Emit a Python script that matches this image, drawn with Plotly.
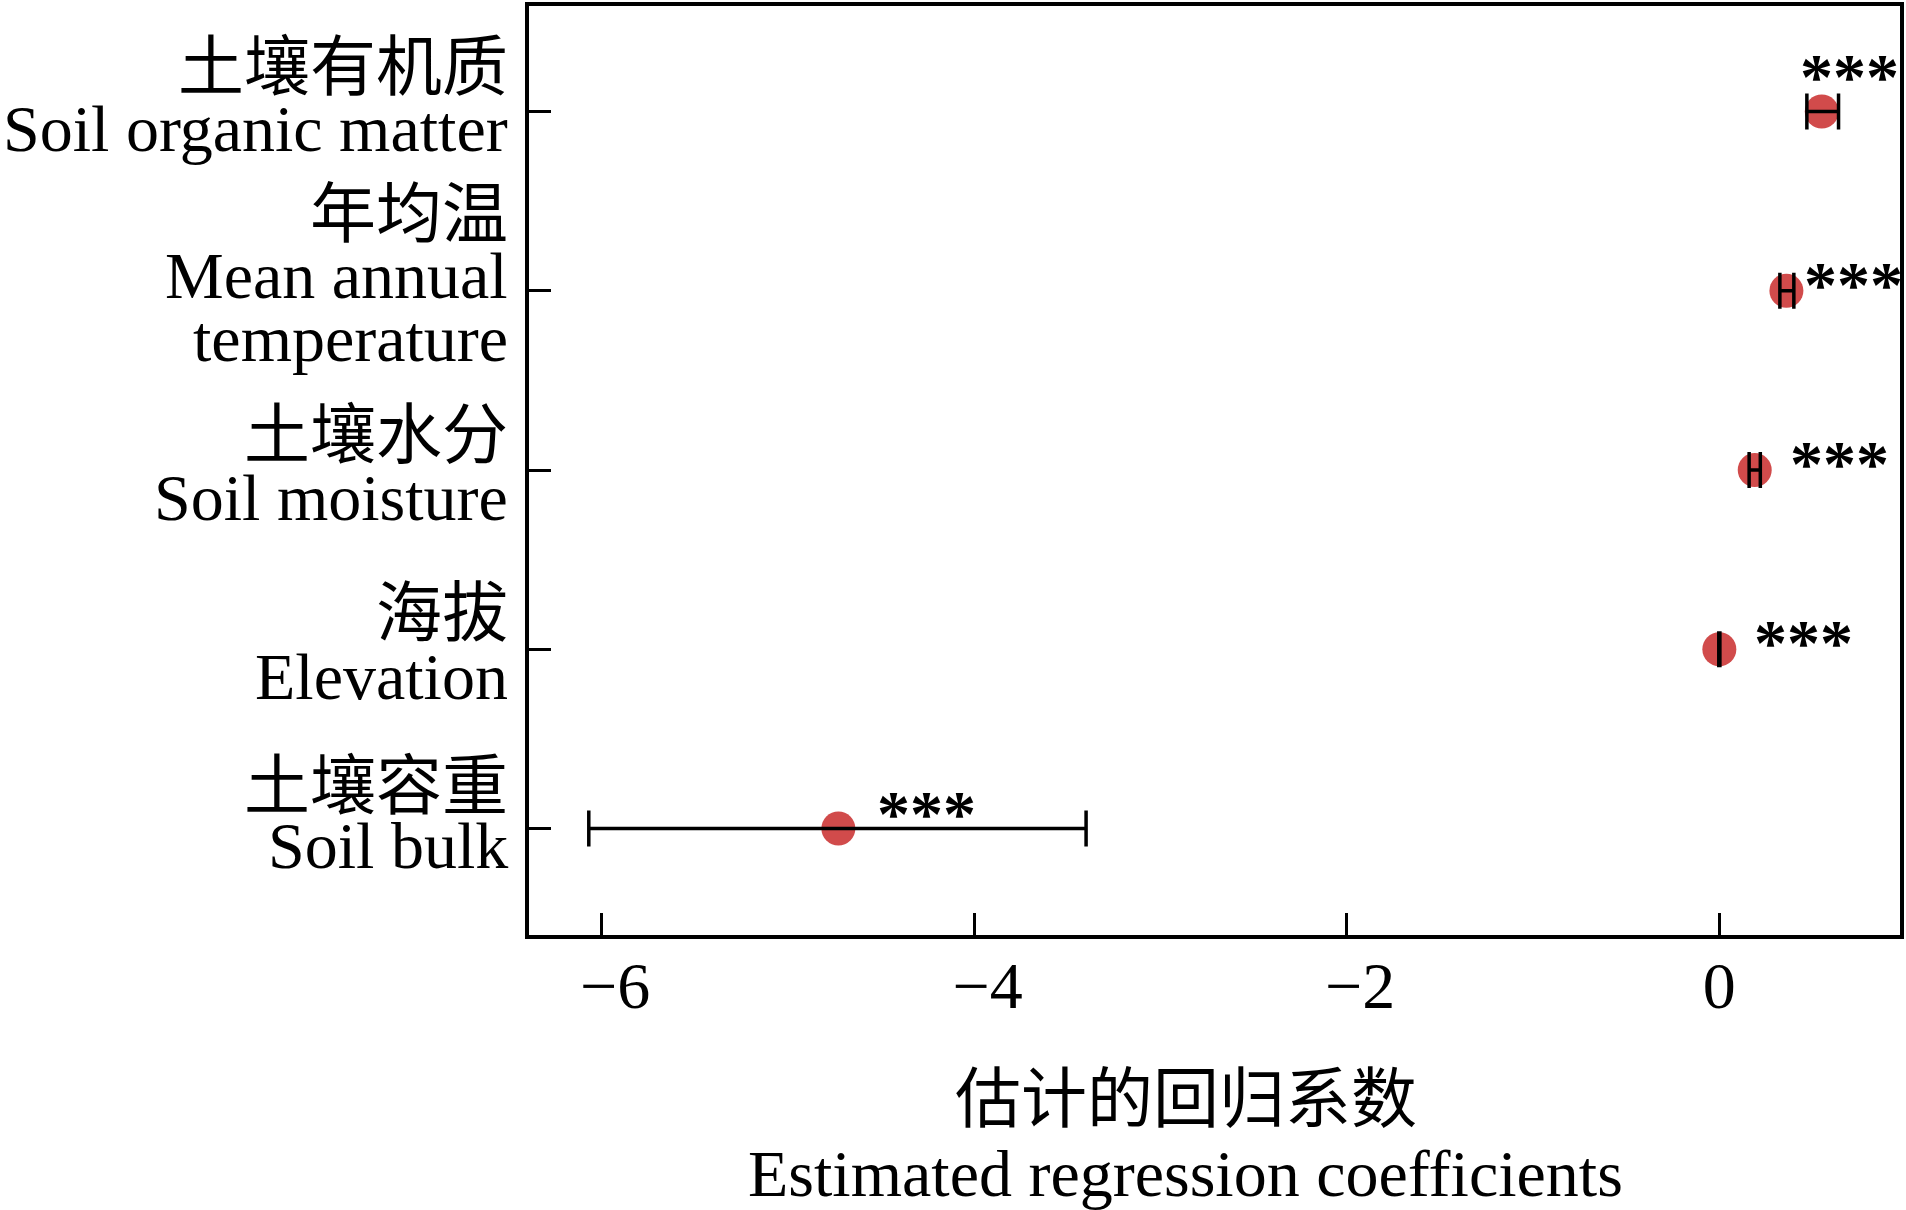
import plotly.graph_objects as go

# ---- data (top to bottom) ----
labels_cn = ["土壤有机质", "年均温", "土壤水分", "海拔", "土壤容重"]
labels_en = [["Soil organic matter"], ["Mean annual", "temperature"], ["Soil moisture"],
             ["Elevation"], ["Soil bulk"]]
categories = ["SOM", "MAT", "SM", "ELE", "SBD"]
estimate = [0.55, 0.36, 0.19, 0.0, -4.73]
ci_low = [0.47, 0.325, 0.16, -0.003, -6.07]
ci_high = [0.64, 0.40, 0.22, 0.003, -3.40]
significance = ["***", "***", "***", "***", "***"]
x_title_cn = "估计的回归系数"
x_title_en = "Estimated regression coefficients"
x_ticks = [-6, -4, -2, 0]

# ---- style ----
FONT = "Liberation Serif, 'Times New Roman', 'Noto Sans CJK SC', serif"
FS = 66
RED = "#D14B4B"

err_plus = [h - e for h, e in zip(ci_high, estimate)]
err_minus = [e - l for e, l in zip(estimate, ci_low)]


def tick_label(v):
    # minus-signed labels sit slightly right of their tick in the original
    return ("\u2009\u2009\u2212" + str(abs(v))) if v < 0 else str(v)


fig = go.Figure()
fig.add_trace(go.Scatter(
    x=estimate, y=categories, mode="markers",
    marker=dict(size=34, color=RED, line=dict(width=0)),
    showlegend=False, hoverinfo="skip",
))
fig.add_trace(go.Scatter(
    x=estimate, y=categories, mode="markers",
    marker=dict(size=1, color="rgba(0,0,0,0)"),
    error_x=dict(type="data", symmetric=False, array=err_plus, arrayminus=err_minus,
                 color="black", thickness=3.5, width=18),
    showlegend=False, hoverinfo="skip",
))

annotations = []
# y labels: per-line offsets (px) relative to category position
label_shifts = [
    [44, -17],
    [76, 15, -48],
    [35, -27],
    [36, -27],
    [42, -17],
]
for cat, cn, en, shifts in zip(categories, labels_cn, labels_en, label_shifts):
    lines = [cn] + en
    for txt, ys in zip(lines, shifts):
        annotations.append(dict(
            text=txt, xref="paper", x=0, yref="y", y=cat,
            xanchor="right", yanchor="middle", xshift=-19, yshift=ys,
            showarrow=False, font=dict(family=FONT, size=FS, color="black"),
        ))

# significance stars: pixel offsets from the point
star_shift = [(-24, 35), (16, 6), (33, 7), (33, 7), (37, 15)]
for cat, est, sig, (dx, dy) in zip(categories, estimate, significance, star_shift):
    annotations.append(dict(
        text="<b>" + sig + "</b>", xref="x", x=est, yref="y", y=cat,
        xanchor="left", yanchor="middle", xshift=dx, yshift=dy,
        showarrow=False, font=dict(family=FONT, size=FS, color="black"),
    ))

# x-axis title (two lines)
annotations.append(dict(text=x_title_cn, xref="paper", x=0.4792, yref="paper", y=0,
                        xanchor="center", yanchor="middle", yshift=-164, showarrow=False,
                        font=dict(family=FONT, size=FS, color="black")))
annotations.append(dict(text=x_title_en, xref="paper", x=0.4792, yref="paper", y=0,
                        xanchor="center", yanchor="middle", yshift=-238, showarrow=False,
                        font=dict(family=FONT, size=FS, color="black")))

fig.update_layout(
    width=1906, height=1210,
    margin=dict(l=529, r=3, t=2, b=275),
    paper_bgcolor="white", plot_bgcolor="white",
    font=dict(family=FONT, size=FS, color="black"),
    annotations=annotations,
    xaxis=dict(
        range=[-6.391, 0.970], tickvals=x_ticks, ticktext=[tick_label(v) for v in x_ticks],
        ticks="inside", ticklen=22, tickwidth=2.5,
        tickcolor="black", showline=True, linecolor="black", linewidth=3.5, mirror=True,
        showgrid=False, zeroline=False, tickfont=dict(family=FONT, size=FS, color="black"),
        ticklabelstandoff=-10,
    ),
    yaxis=dict(
        type="category", categoryorder="array", categoryarray=categories,
        range=[4.594, -0.589], ticks="inside", ticklen=22, tickwidth=2.5, tickcolor="black",
        showline=True, linecolor="black", linewidth=3.5, mirror=True,
        showgrid=False, zeroline=False, showticklabels=False,
    ),
)

fig.write_html("out.html", config={"displayModeBar": False},
               post_script="document.body.style.margin='0px';document.body.style.overflow='hidden';")
